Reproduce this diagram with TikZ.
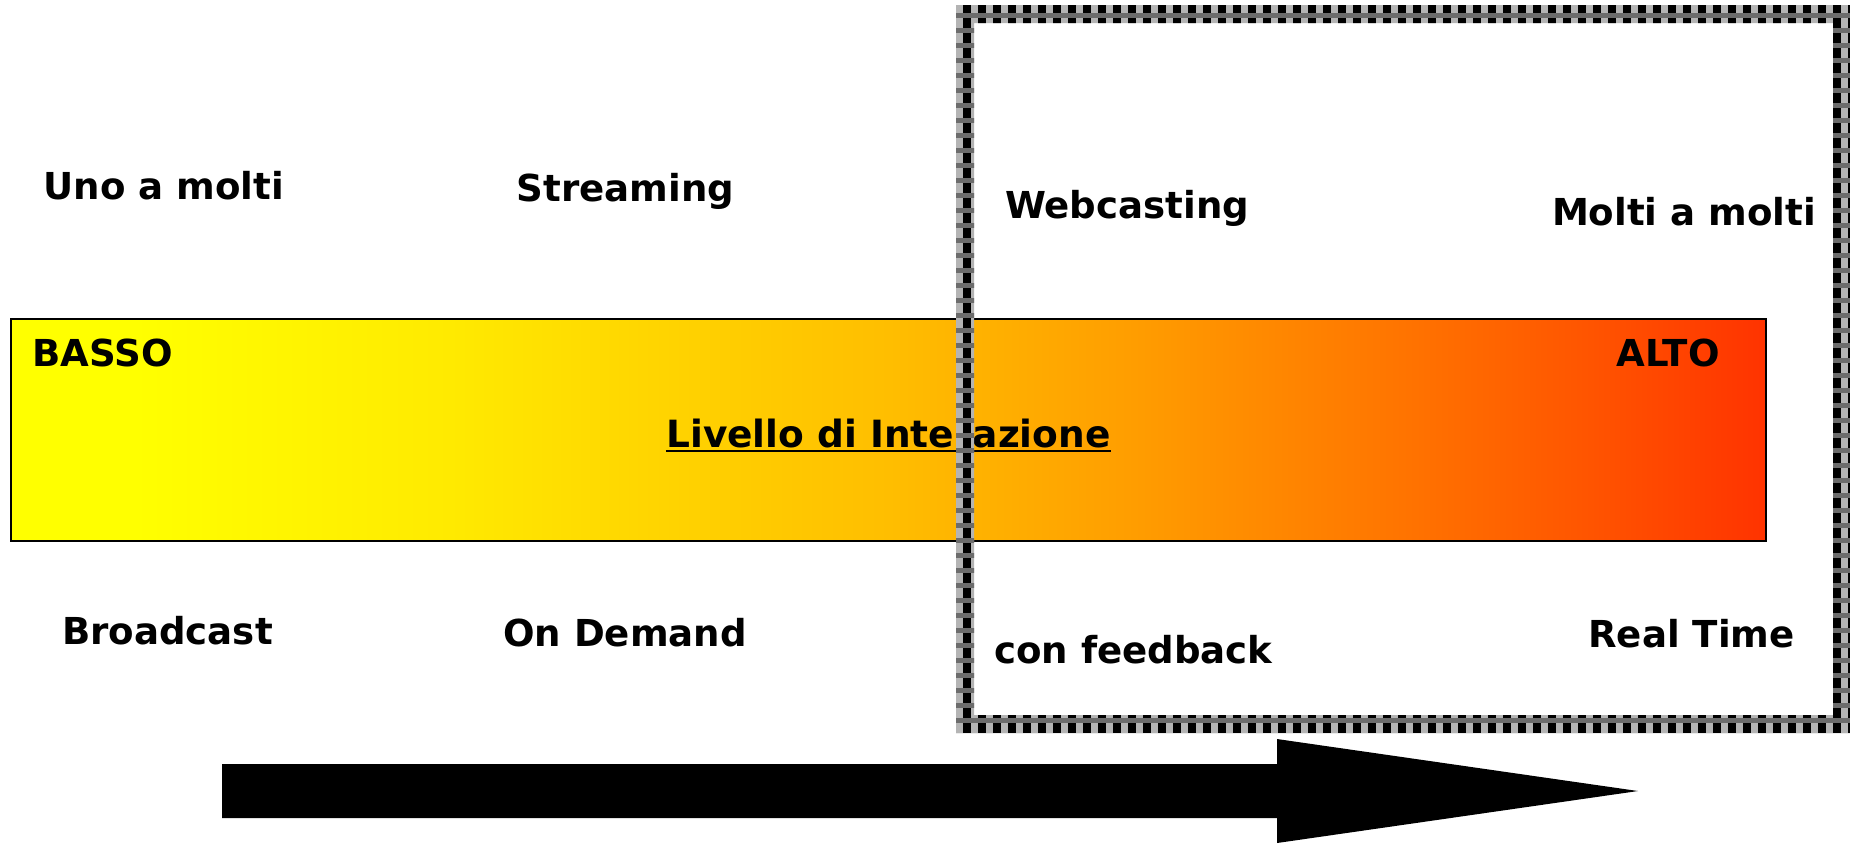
\documentclass[tikz,border=0pt]{standalone}
\usepackage{fontspec}
\setmainfont{DejaVu Sans}

% colours of the interaction bar (yellow -> red)
\definecolor{gA}{HTML}{FFFF00}
\definecolor{gB}{HTML}{FFEA00}
\definecolor{gC}{HTML}{FFD600}
\definecolor{gD}{HTML}{FFBE00}
\definecolor{gE}{HTML}{FF9D00}
\definecolor{gF}{HTML}{FF7200}
\definecolor{gG}{HTML}{FF5400}
\definecolor{gH}{HTML}{FF3300}
% colours of the checkered frame
\definecolor{framegray}{HTML}{B4B4B4}
\definecolor{framemid}{HTML}{6C6C6C}

% the visible part of a shading is 25bp..75bp
\pgfdeclarehorizontalshading{interaction}{100bp}{%
  color(0bp)=(gA); color(25bp)=(gA); color(28.5bp)=(gA);
  color(37.5bp)=(gB); color(43bp)=(gC); color(50bp)=(gD);
  color(57bp)=(gE); color(65bp)=(gF); color(70bp)=(gG);
  color(75bp)=(gH); color(100bp)=(gH)}

\tikzset{
  lbl/.style={font=\fontsize{14.85pt}{17pt}\bfseries\selectfont,
              inner sep=0pt, anchor=base},
  biglbl/.style={font=\fontsize{15pt}{18pt}\bfseries\selectfont,
              inner sep=0pt, anchor=base},
}

\begin{document}
\begin{tikzpicture}[x=0.4pt, y=-0.4pt]
  \useasboundingbox[fill=white] (0,0) rectangle (1850,843);

  % interaction level bar
  \shadedraw[shading=interaction, draw=black, line width=0.8pt]
    (11,319) rectangle (1766,541);

  % labels above the bar
  \node[lbl] (uno)   at (164,199)    {Uno a molti};
  \node[lbl] (strm)  at (625.5,201)  {Streaming};
  \node[lbl] (web)   at (1127,218)   {Webcasting};
  \node[lbl] (molti) at (1684,225)   {Molti a molti};

  % labels inside the bar
  \node[lbl] (basso) at (102.5,366)  {BASSO};
  \node[lbl] (alto)  at (1668,366)   {ALTO};
  \node[biglbl] (liv) at (888.5,447) {Livello di Interazione};
  \draw[line width=0.6pt] ([yshift=-1.6pt]liv.base west) -- ([yshift=-1.6pt]liv.base east);

  % labels below the bar
  \node[lbl] (broad) at (167.5,644)  {Broadcast};
  \node[lbl] (ondem) at (625,646)    {On Demand};
  \node[lbl] (feed)  at (1133.5,663) {con feedback};
  \node[lbl] (real)  at (1691.5,647) {Real Time};

  % checkered frame around the high-interaction side
  \begin{scope}[even odd rule]
    \clip (956,5) rectangle (1851,733) (974,23) rectangle (1833,715);
    \fill[framegray] (956,5) rectangle (1851,733);
    \foreach \i in {0,...,59}
      \fill[black] ({963+15*\i},5) rectangle ({971+15*\i},733);
    \foreach \k in {0,...,48}
      \fill[framemid] (956,{13+15*\k}) rectangle (1851,{18+15*\k});
  \end{scope}

  % big block arrow
  \fill[black] (222,764) -- (1277,764) -- (1277,739) -- (1638,791)
               -- (1277,843) -- (1277,818) -- (222,818) -- cycle;
\end{tikzpicture}
\end{document}
